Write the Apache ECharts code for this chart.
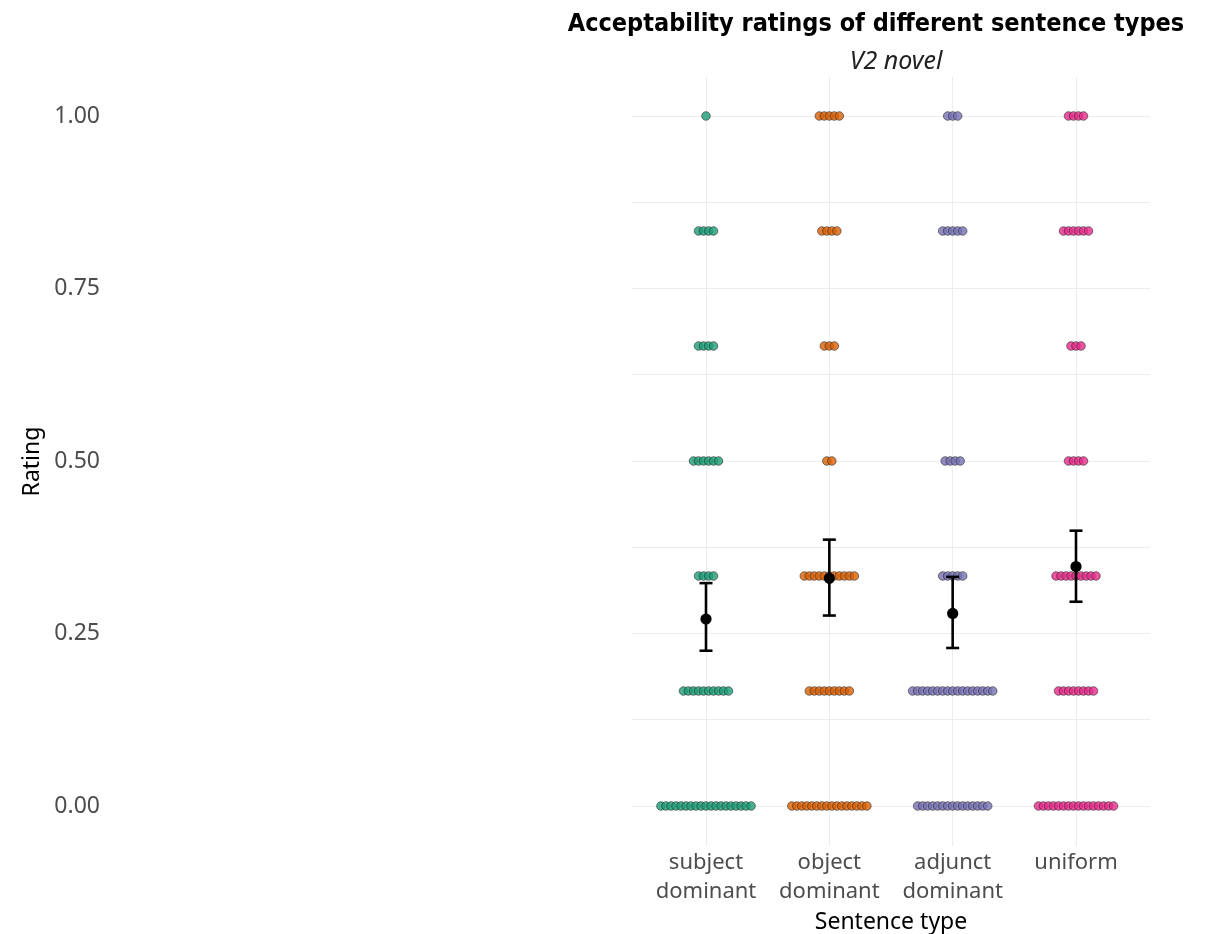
<!DOCTYPE html>
<html>
<head>
<meta charset="utf-8">
<script src="https://cdn.jsdelivr.net/npm/echarts@6/dist/echarts.min.js"></script>
<style>
  html, body { margin: 0; padding: 0; background: #fff; }
  #chart { width: 1219px; height: 934px; }
</style>
</head>
<body>
<div id="chart"></div>
<script>
// Sentence types on the x axis
const categories = ['subject\ndominant', 'object\ndominant', 'adjunct\ndominant', 'uniform'];
// Possible rating values (0..6 scale, normalised)
const ratingLevels = [0, 1 / 6, 2 / 6, 3 / 6, 4 / 6, 5 / 6, 1];
// Number of responses at each rating level, per sentence type
const countsSubject = [19, 10, 4, 6, 4, 4, 1];
const countsObject  = [16, 9, 11, 2, 3, 4, 5];
const countsAdjunct = [15, 17, 5, 4, 0, 5, 3];
const countsUniform = [16, 8, 9, 4, 3, 6, 4];
// Mean rating and confidence interval per sentence type
const meanRating = [0.271, 0.330, 0.279, 0.347];
const ciLower    = [0.225, 0.276, 0.229, 0.296];
const ciUpper    = [0.323, 0.386, 0.332, 0.399];
// Axis tick labels
const yTickValues = [0, 0.25, 0.5, 0.75, 1];
const yGridValues = [0, 0.125, 0.25, 0.375, 0.5, 0.625, 0.75, 0.875, 1];

const palette = ['#1B9E77', '#D95F02', '#7570B3', '#E7298A'];
const allCounts = [countsSubject, countsObject, countsAdjunct, countsUniform];
const dotStep = 0.0406; // horizontal spacing between stacked dots, in x units

const dotSeries = allCounts.map((counts, k) => {
  const pts = [];
  counts.forEach((n, lvl) => {
    for (let i = 0; i < n; i++) {
      pts.push([k + 1 + (i - (n - 1) / 2) * dotStep, ratingLevels[lvl]]);
    }
  });
  return {
    type: 'scatter',
    data: pts,
    symbol: 'circle',
    symbolSize: 8.6,
    itemStyle: { color: palette[k], opacity: 0.8, borderColor: '#222', borderWidth: 0.7 },
    silent: true,
    z: 2
  };
});

const errData = meanRating.map((m, k) => [k + 1, m, ciLower[k], ciUpper[k]]);

const chart = echarts.init(document.getElementById('chart'));
chart.setOption({
  animation: false,
  backgroundColor: '#fff',
  title: [
    {
      text: 'Acceptability ratings of different sentence types',
      left: 871, top: 7, textAlign: 'center',
      textStyle: { fontFamily: 'DejaVu Sans Condensed, Noto Sans', fontWeight: 'bold', fontSize: 25, color: '#000' }
    },
    {
      text: 'V2 novel',
      left: 891, top: 44, textAlign: 'center',
      textStyle: { fontFamily: 'Noto Sans', fontStyle: 'italic', fontWeight: 'normal', fontSize: 25, color: '#222' }
    }
  ],
  grid: { left: 632, right: 69, top: 77, bottom: 88, outerBoundsMode: 'none' },
  xAxis: {
    type: 'value', min: 0.4, max: 4.6,
    name: 'Sentence type', nameLocation: 'middle', nameGap: 61,
    nameTextStyle: { fontFamily: 'Noto Sans', fontSize: 23, color: '#000' },
    axisLine: { show: false },
    axisTick: { show: false, customValues: [1, 2, 3, 4] },
    axisLabel: {
      customValues: [1, 2, 3, 4],
      formatter: v => categories[Math.round(v) - 1] || '',
      fontFamily: 'Noto Sans', fontSize: 22, color: '#4d4d4d', lineHeight: 29, margin: 2
    },
    splitLine: { show: true, lineStyle: { color: '#ededed', width: 1 } }
  },
  yAxis: {
    type: 'value', min: -0.058, max: 1.0565,
    name: 'Rating', nameLocation: 'middle', nameGap: 588, nameRotate: 90,
    nameTextStyle: { fontFamily: 'Noto Sans', fontSize: 23, color: '#000' },
    axisLine: { show: false },
    axisTick: { show: false, customValues: yGridValues },
    axisLabel: {
      customValues: yTickValues,
      formatter: v => v.toFixed(2),
      fontFamily: 'Noto Sans', fontSize: 23, color: '#4d4d4d', margin: 532
    },
    splitLine: { show: true, lineStyle: { color: '#ededed', width: 1 } }
  },
  series: dotSeries.concat([
    {
      type: 'custom',
      data: errData,
      z: 5,
      silent: true,
      renderItem: (params, api) => {
        const x = api.value(0);
        const top = api.coord([x, api.value(3)]);
        const bot = api.coord([x, api.value(2)]);
        const mid = api.coord([x, api.value(1)]);
        const cap = 6.5;
        const st = { stroke: '#000', lineWidth: 2.6 };
        return {
          type: 'group',
          children: [
            { type: 'line', shape: { x1: top[0], y1: top[1], x2: bot[0], y2: bot[1] }, style: st },
            { type: 'line', shape: { x1: top[0] - cap, y1: top[1], x2: top[0] + cap, y2: top[1] }, style: st },
            { type: 'line', shape: { x1: bot[0] - cap, y1: bot[1], x2: bot[0] + cap, y2: bot[1] }, style: st },
            { type: 'circle', shape: { cx: mid[0], cy: mid[1], r: 5.6 }, style: { fill: '#000' } }
          ]
        };
      }
    }
  ])
});
</script>
</body>
</html>
